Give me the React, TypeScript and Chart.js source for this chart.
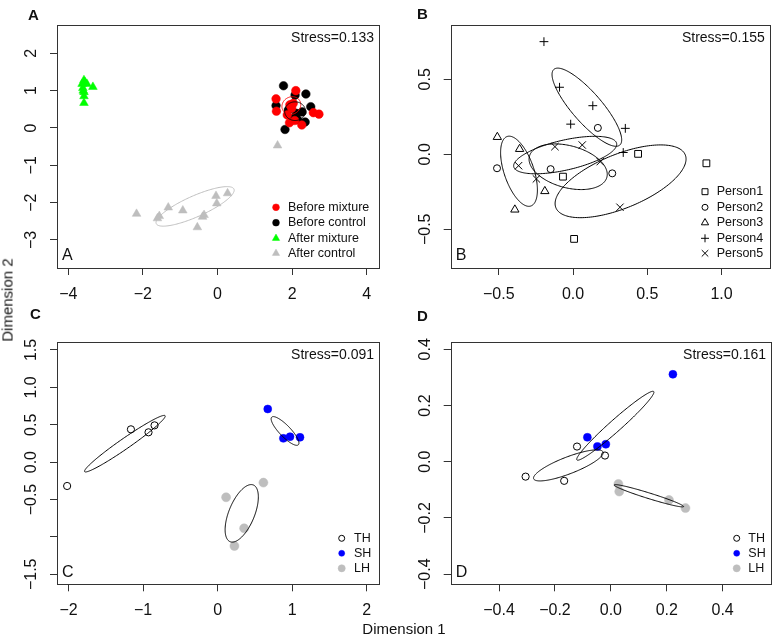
import React, { useEffect, useRef } from 'react';
import { Chart, registerables } from 'chart.js';
import { drawPoint } from 'chart.js/helpers';

Chart.register(...registerables);

const FONT = '"Liberation Sans", Arial, Helvetica, sans-serif';

type Pt = [number, number];
type Ell = [number, number, number, number, number]; // cx, cy, semi-major, semi-minor, angle (deg)

// ---------------- Panel A ----------------
const aBeforeMixture: Pt[] = [[2.10, 1.00], [1.57, 0.78], [1.58, 0.45], [1.94, 0.62], [2.03, 0.66], [1.87, 0.35], [1.93, 0.14], [2.26, 0.08], [2.57, 0.41], [2.72, 0.37], [2.07, 0.20], [1.99, 0.53]];
const aBeforeControl: Pt[] = [[1.77, 1.13], [2.08, 0.88], [2.37, 0.91], [1.57, 0.60], [2.50, 0.57], [2.27, 0.43], [2.12, 0.39], [2.35, 0.16], [1.81, -0.04], [1.90, 0.48], [2.03, 0.26], [2.15, 0.22]];
const aAfterMixture: Pt[] = [[-3.58, 1.28], [-3.34, 1.10], [-3.50, 1.18], [-3.61, 1.07], [-3.58, 0.96], [-3.58, 0.85], [-3.58, 0.67], [-3.63, 1.18], [-3.55, 1.22], [-3.60, 1.00]];
const aAfterControl: Pt[] = [[-2.17, -2.30], [-1.56, -2.36], [-1.61, -2.42], [-1.32, -2.13], [-0.93, -2.21], [-0.40, -2.38], [-0.36, -2.33], [-0.54, -2.66], [-0.02, -2.02], [-0.04, -1.82], [0.27, -1.75], [1.61, -0.47]];
const aEllipses: Ell[] = [[1.98, 0.60, 0.26, 0.23, 30], [2.08, 0.45, 0.28, 0.25, 0], [-0.60, -2.10, 1.14, 0.28, 24]];
const aXTicks = [-4, -2, 0, 2, 4];
const aXLabels = ['\u22124', '\u22122', '0', '2', '4'];
const aYTicks = [-3, -2, -1, 0, 1, 2];
const aYLabels = ['\u22123', '\u22122', '\u22121', '0', '1', '2'];

// ---------------- Panel B ----------------
const bPerson1: Pt[] = [[0.438, 0.003], [0.898, -0.060], [-0.068, -0.149], [0.007, -0.564]];
const bPerson2: Pt[] = [[-0.512, -0.093], [-0.151, -0.099], [0.167, 0.176], [0.264, -0.127]];
const bPerson3: Pt[] = [[-0.510, 0.115], [-0.360, 0.035], [-0.190, -0.246], [-0.392, -0.369]];
const bPerson4: Pt[] = [[-0.196, 0.751], [-0.091, 0.447], [0.133, 0.324], [-0.016, 0.201], [0.352, 0.173], [0.338, 0.012]];
const bPerson5: Pt[] = [[-0.367, -0.076], [-0.122, 0.051], [0.062, 0.062], [-0.247, -0.164], [0.316, -0.353], [0.183, -0.049]];
const bEllipses: Ell[] = [[0.093, 0.314, 0.336, 0.10, -48.6], [-0.364, -0.113, 0.245, 0.10, -70.9], [-0.053, -0.005, 0.355, 0.10, 12.7], [-0.033, -0.083, 0.27, 0.14, -15], [0.32, -0.18, 0.47, 0.18, 22]];
const bXTicks = [-0.5, 0, 0.5, 1.0];
const bXLabels = ['\u22120.5', '0.0', '0.5', '1.0'];
const bYTicks = [-0.5, 0, 0.5];
const bYLabels = ['\u22120.5', '0.0', '0.5'];

// ---------------- Panel C ----------------
const cTH: Pt[] = [[-1.164, 0.439], [-0.928, 0.399], [-0.847, 0.492], [-2.02, -0.319]];
const cSH: Pt[] = [[0.672, 0.711], [0.882, 0.318], [0.971, 0.341], [1.105, 0.332]];
const cLH: Pt[] = [[0.113, -0.470], [0.614, -0.274], [0.355, -0.885], [0.225, -1.121]];
const cEllipses: Ell[] = [[-1.245, 0.247, 0.657, 0.07, 34.7], [0.904, 0.417, 0.257, 0.075, -46], [0.323, -0.685, 0.41, 0.172, 67.6]];
const cXTicks = [-2, -1, 0, 1, 2];
const cXLabels = ['\u22122', '\u22121', '0', '1', '2'];
const cYTicks = [-1.5, -1.0, -0.5, 0, 0.5, 1.0, 1.5];
const cYLabels = ['\u22121.5', '', '\u22120.5', '0.0', '0.5', '1.0', '1.5'];

// ---------------- Panel D ----------------
const dTH: Pt[] = [[-0.305, -0.053], [-0.167, -0.068], [-0.121, 0.054], [-0.021, 0.022]];
const dSH: Pt[] = [[-0.084, 0.087], [-0.048, 0.054], [-0.018, 0.062], [0.222, 0.311]];
const dLH: Pt[] = [[0.027, -0.079], [0.030, -0.106], [0.208, -0.136], [0.267, -0.165]];
const dEllipses: Ell[] = [[-0.152, -0.013, 0.133, 0.03, 21], [0.016, 0.128, 0.1835, 0.021, 41.5], [0.136, -0.121, 0.13, 0.01, -17.2]];
const dXTicks = [-0.4, -0.2, 0, 0.2, 0.4];
const dXLabels = ['\u22120.4', '\u22120.2', '0.0', '0.2', '0.4'];
const dYTicks = [-0.4, -0.2, 0, 0.2, 0.4];
const dYLabels = ['\u22120.4', '\u22120.2', '0.0', '0.2', '0.4'];

const stressValues = ['Stress=0.133', 'Stress=0.155', 'Stress=0.091', 'Stress=0.161'];

// ---------------- styling / layout ----------------
interface Series { name: string; points: Pt[]; shape: string; r: number; lr: number; fill: string; stroke: string; lw: number; }
interface PanelCfg {
  canvas: { left: number; top: number; w: number; h: number };
  box: { left: number; top: number; right: number; bottom: number };
  xr: [number, number]; yr: [number, number];
  xTicks: number[]; xLabels: string[]; yTicks: number[]; yLabels: string[];
  series: Series[]; ellipses: Ell[]; ellipseColors: string[];
  stress: string; letter: string;
  legend: { markerDx: number; textDx: number; rows: number[] };
}

const RED = '#ff0000', BLACK = '#000000', GREEN = '#00ff00', GREY = '#bebebe', BLUE = '#0000ff', NONE = 'rgba(0,0,0,0)';
const AXIS = '#333333';

const hSeries = (th: Pt[], sh: Pt[], lh: Pt[]): Series[] => [
  { name: 'TH', points: th, shape: 'circle', r: 3.6, lr: 3.0, fill: NONE, stroke: BLACK, lw: 1 },
  { name: 'SH', points: sh, shape: 'circle', r: 4.0, lr: 3.0, fill: BLUE, stroke: BLUE, lw: 0.5 },
  { name: 'LH', points: lh, shape: 'circle', r: 4.5, lr: 3.6, fill: GREY, stroke: GREY, lw: 0.5 },
];

const panels: PanelCfg[] = [
  {
    canvas: { left: 0, top: 0, w: 388, h: 319 },
    box: { left: 57, top: 25, right: 379, bottom: 268 },
    xr: [-4.303, 4.33], yr: [-3.75, 2.758],
    xTicks: aXTicks, xLabels: aXLabels, yTicks: aYTicks, yLabels: aYLabels,
    series: [
      { name: 'Before mixture', points: aBeforeMixture, shape: 'circle', r: 4.3, lr: 3.4, fill: RED, stroke: RED, lw: 0.5 },
      { name: 'Before control', points: aBeforeControl, shape: 'circle', r: 4.3, lr: 3.4, fill: BLACK, stroke: BLACK, lw: 0.5 },
      { name: 'After mixture', points: aAfterMixture, shape: 'triangle', r: 5, lr: 4.2, fill: GREEN, stroke: GREEN, lw: 0.5 },
      { name: 'After control', points: aAfterControl, shape: 'triangle', r: 5, lr: 4.2, fill: GREY, stroke: GREY, lw: 0.5 },
    ],
    ellipses: aEllipses, ellipseColors: [RED, BLACK, GREY],
    stress: stressValues[0], letter: 'A',
    legend: { markerDx: -103, textDx: -91, rows: [60.7, 45.3, 29.7, 14.7] },
  },
  {
    canvas: { left: 388, top: 0, w: 388, h: 319 },
    box: { left: 450.7, top: 25, right: 773, bottom: 268 },
    xr: [-0.824, 1.325], yr: [-0.758, 0.862],
    xTicks: bXTicks, xLabels: bXLabels, yTicks: bYTicks, yLabels: bYLabels,
    series: [
      { name: 'Person1', points: bPerson1, shape: 'rect', r: 4.8, lr: 4.2, fill: NONE, stroke: BLACK, lw: 1 },
      { name: 'Person2', points: bPerson2, shape: 'circle', r: 3.5, lr: 3.0, fill: NONE, stroke: BLACK, lw: 1 },
      { name: 'Person3', points: bPerson3, shape: 'triangle', r: 4.8, lr: 4.2, fill: NONE, stroke: BLACK, lw: 1 },
      { name: 'Person4', points: bPerson4, shape: 'cross', r: 4.4, lr: 4.0, fill: NONE, stroke: BLACK, lw: 1 },
      { name: 'Person5', points: bPerson5, shape: 'crossRot', r: 5.2, lr: 4.6, fill: NONE, stroke: BLACK, lw: 1 },
    ],
    ellipses: bEllipses, ellipseColors: [BLACK, BLACK, BLACK, BLACK, BLACK],
    stress: stressValues[1], letter: 'B',
    legend: { markerDx: -68, textDx: -56.3, rows: [76.3, 60.7, 45.3, 29.7, 14.7] },
  },
  {
    canvas: { left: 0, top: 319, w: 388, h: 319 },
    box: { left: 57, top: 341.7, right: 379, bottom: 584.3 },
    xr: [-2.156, 2.165], yr: [-1.634, 1.611],
    xTicks: cXTicks, xLabels: cXLabels, yTicks: cYTicks, yLabels: cYLabels,
    series: hSeries(cTH, cSH, cLH),
    ellipses: cEllipses, ellipseColors: [BLACK, BLACK, BLACK],
    stress: stressValues[2], letter: 'C',
    legend: { markerDx: -37.3, textDx: -25, rows: [46, 31, 16] },
  },
  {
    canvas: { left: 388, top: 319, w: 388, h: 319 },
    box: { left: 450.7, top: 341.7, right: 773, bottom: 584.3 },
    xr: [-0.573, 0.573], yr: [-0.436, 0.427],
    xTicks: dXTicks, xLabels: dXLabels, yTicks: dYTicks, yLabels: dYLabels,
    series: hSeries(dTH, dSH, dLH),
    ellipses: dEllipses, ellipseColors: [BLACK, BLACK, BLACK],
    stress: stressValues[3], letter: 'D',
    legend: { markerDx: -36.3, textDx: -24.7, rows: [46, 31, 16] },
  },
];

const makeDecor = (cfg: PanelCfg) => ({
  id: 'decor' + cfg.letter,
  afterDatasetsDraw(chart: any) {
    const { ctx, chartArea: ca, scales } = chart;
    const xs = scales.x, ys = scales.y;
    ctx.save();
    ctx.beginPath();
    ctx.rect(ca.left, ca.top, ca.right - ca.left, ca.bottom - ca.top);
    ctx.clip();
    cfg.ellipses.forEach((e, i) => {
      const [cx, cy, a, b, deg] = e;
      const th = (deg * Math.PI) / 180, c = Math.cos(th), s = Math.sin(th);
      ctx.beginPath();
      const N = 180;
      for (let k = 0; k <= N; k++) {
        const t = (k / N) * 2 * Math.PI;
        const dx = a * Math.cos(t), dy = b * Math.sin(t);
        const px = xs.getPixelForValue(cx + dx * c - dy * s);
        const py = ys.getPixelForValue(cy + dx * s + dy * c);
        if (k === 0) ctx.moveTo(px, py); else ctx.lineTo(px, py);
      }
      ctx.closePath();
      ctx.strokeStyle = cfg.ellipseColors[i];
      ctx.lineWidth = 1;
      ctx.stroke();
    });
    ctx.restore();
  },
  afterDraw(chart: any) {
    const { ctx, chartArea: ca, scales } = chart;
    const ys = scales.y;
    ctx.save();
    // box
    ctx.strokeStyle = AXIS;
    ctx.lineWidth = 1;
    ctx.strokeRect(Math.round(ca.left) + 0.5, Math.round(ca.top) + 0.5, Math.round(ca.right) - Math.round(ca.left), Math.round(ca.bottom) - Math.round(ca.top));
    // y tick labels (rotated, R style)
    ctx.fillStyle = '#111';
    ctx.font = `16px ${FONT}`;
    ctx.textAlign = 'center';
    ctx.textBaseline = 'middle';
    ys.ticks.forEach((t: any, i: number) => {
      const lab = cfg.yLabels[i];
      if (!lab) return;
      ctx.save();
      ctx.translate(ca.left - 25, ys.getPixelForValue(t.value));
      ctx.rotate(-Math.PI / 2);
      ctx.fillText(lab, 0, 0);
      ctx.restore();
    });
    // stress
    ctx.font = `14px ${FONT}`;
    ctx.textAlign = 'right';
    ctx.fillText(cfg.stress, ca.right - 5, ca.top + 13);
    // inner letter
    ctx.font = `16px ${FONT}`;
    ctx.textAlign = 'left';
    ctx.fillText(cfg.letter, ca.left + 5, ca.bottom - 12);
    // legend
    const bx = cfg.box.right - cfg.canvas.left;
    const by = cfg.box.bottom - cfg.canvas.top;
    ctx.font = `12.5px ${FONT}`;
    cfg.series.forEach((s, i) => {
      const y = by - cfg.legend.rows[i];
      ctx.fillStyle = s.fill;
      ctx.strokeStyle = s.stroke;
      ctx.lineWidth = s.lw;
      drawPoint(ctx, { pointStyle: s.shape as any, rotation: 0, radius: s.lr, borderWidth: s.lw }, bx + cfg.legend.markerDx, y);
      ctx.fillStyle = '#111';
      ctx.fillText(s.name, bx + cfg.legend.textDx, y);
    });
    ctx.restore();
  },
});

function PanelChart({ cfg }: { cfg: PanelCfg }) {
  const ref = useRef<HTMLCanvasElement>(null);
  useEffect(() => {
    const canvas = ref.current!;
    const { canvas: cv, box } = cfg;
    const gridCfg = { display: true, drawOnChartArea: false, drawTicks: true, tickLength: 7, color: AXIS, lineWidth: 1 };
    const chart = new Chart(canvas, {
      type: 'scatter',
      data: {
        datasets: cfg.series.map((s) => ({
          label: s.name,
          data: s.points.map(([x, y]) => ({ x, y })),
          pointStyle: s.shape as any,
          pointRadius: s.r,
          pointHoverRadius: s.r,
          pointBackgroundColor: s.fill,
          pointBorderColor: s.stroke,
          pointBorderWidth: s.lw,
          backgroundColor: s.fill,
          borderColor: s.stroke,
          showLine: false,
        })),
      },
      options: {
        responsive: false,
        animation: false,
        devicePixelRatio: 1,
        events: [],
        layout: {
          padding: { left: 0, top: box.top - cv.top, right: cv.left + cv.w - box.right, bottom: 0 },
        },
        plugins: { legend: { display: false }, tooltip: { enabled: false }, title: { display: false } },
        scales: {
          x: {
            type: 'linear',
            min: cfg.xr[0],
            max: cfg.xr[1],
            afterBuildTicks: (sc: any) => { sc.ticks = cfg.xTicks.map((v) => ({ value: v })); },
            afterFit: (sc: any) => { sc.height = cv.top + cv.h - box.bottom; },
            grid: gridCfg,
            border: { display: false },
            ticks: {
              autoSkip: false,
              maxRotation: 0,
              minRotation: 0,
              padding: 10,
              color: '#111',
              font: { family: FONT, size: 16 },
              callback: (_v: any, i: number) => cfg.xLabels[i],
            },
          },
          y: {
            type: 'linear',
            min: cfg.yr[0],
            max: cfg.yr[1],
            afterBuildTicks: (sc: any) => { sc.ticks = cfg.yTicks.map((v) => ({ value: v })); },
            afterFit: (sc: any) => { sc.width = box.left - cv.left; },
            grid: gridCfg,
            border: { display: false },
            ticks: { display: false },
          },
        },
      } as any,
      plugins: [makeDecor(cfg)],
    });
    return () => chart.destroy();
  }, [cfg]);
  const { canvas: cv } = cfg;
  return (
    <canvas
      ref={ref}
      width={cv.w}
      height={cv.h}
      style={{ position: 'absolute', left: cv.left, top: cv.top, width: cv.w, height: cv.h }}
    />
  );
}

const outerLetters: { t: string; x: number; y: number }[] = [
  { t: 'A', x: 28, y: 14 },
  { t: 'B', x: 417, y: 13 },
  { t: 'C', x: 30, y: 313 },
  { t: 'D', x: 417, y: 315 },
];

export default function App() {
  return (
    <div style={{ position: 'fixed', left: 0, top: 0, width: 776, height: 638, background: '#fff', overflow: 'hidden', fontFamily: FONT, color: '#111' }}>
      {panels.map((p) => (
        <PanelChart key={p.letter} cfg={p} />
      ))}
      {outerLetters.map((l) => (
        <div key={l.t} style={{ position: 'absolute', left: l.x, top: l.y - 7.3, fontSize: 15, lineHeight: '15px', fontWeight: 'bold' }}>
          {l.t}
        </div>
      ))}
      <div style={{ position: 'absolute', left: 7, top: 300, transform: 'translate(-50%, -50%) rotate(-90deg)', fontSize: 15, lineHeight: '15px', whiteSpace: 'nowrap' }}>
        Dimension 2
      </div>
      <div style={{ position: 'absolute', left: 404, top: 628, transform: 'translate(-50%, -50%)', fontSize: 15, lineHeight: '15px', whiteSpace: 'nowrap' }}>
        Dimension 1
      </div>
    </div>
  );
}
